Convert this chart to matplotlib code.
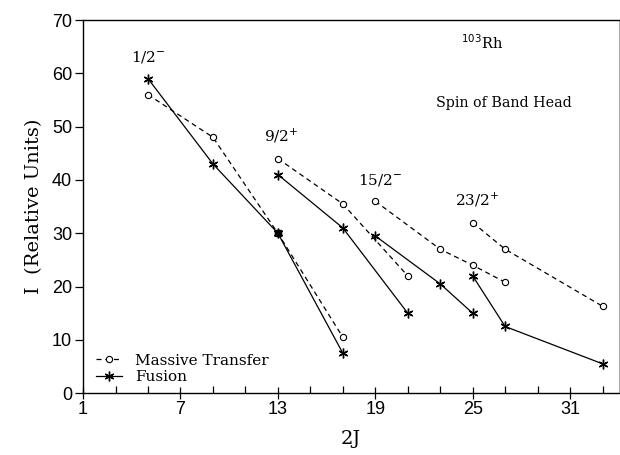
import matplotlib
matplotlib.use("Agg")
import matplotlib.pyplot as plt
from matplotlib.ticker import MultipleLocator

# Bands (spin of band head) : x = 2J, y = relative intensity
band_labels = [r"1/2$^{-}$", r"9/2$^{+}$", r"15/2$^{-}$", r"23/2$^{+}$"]

mt_x = [[5, 9, 13, 17], [13, 17, 21], [19, 23, 25, 27], [25, 27, 33]]
mt_y = [[56, 48, 30, 10.5], [44, 35.5, 22], [36, 27, 24, 20.8], [32, 27, 16.3]]

fu_x = [[5, 9, 13, 17], [13, 17, 21], [19, 23, 25], [25, 27, 33]]
fu_y = [[59, 43, 30, 7.5], [41, 31, 15], [29.5, 20.5, 15], [22, 12.5, 5.5]]

label_pos = [(5, 61.5), (13.2, 46.5), (19.3, 38.5), (25.3, 34.5)]

x_major = [1, 7, 13, 19, 25, 31]
x_minor = [3, 5, 9, 11, 15, 17, 21, 23, 27, 29, 33]

serif = "DejaVu Serif"
sans = "Liberation Sans"

fig = plt.figure(figsize=(6.2, 4.55), dpi=100)
ax = fig.add_axes([0.134, 0.136, 0.864, 0.82])

asterisk = (6, 2, 0)
for i in range(len(mt_x)):
    ax.plot(mt_x[i], mt_y[i], color="black", lw=0.9, ls=(0, (4, 3)),
            marker="o", ms=4.5, mfc="white", mec="black", mew=0.8,
            label="Massive Transfer" if i == 0 else None)
    ax.plot(fu_x[i], fu_y[i], color="black", lw=0.9, ls="-",
            marker=asterisk, ms=7, mec="black", mew=1.0,
            label="Fusion" if i == 0 else None)
    ax.text(label_pos[i][0], label_pos[i][1], band_labels[i], ha="center",
            va="bottom", fontsize=11, family=serif)

# coincident point drawn as filled square
ax.plot([mt_x[0][2]], [mt_y[0][2]], marker="s", ms=5, color="black", ls="none")

ax.text(25.6, 65.7, r"$^{103}$Rh", ha="center", va="center", fontsize=10.5, family=serif)
ax.text(26.9, 54.4, "Spin of Band Head", ha="center", va="center", fontsize=10.3, family=serif)

ax.set_xlim(1, 34)
ax.set_ylim(0, 70)
ax.set_xticks(x_major)
ax.set_xticks(x_minor, minor=True)
ax.yaxis.set_major_locator(MultipleLocator(10))
ax.tick_params(axis="x", which="major", direction="inout", length=8, width=0.9,
               labelsize=13, pad=2)
ax.tick_params(axis="x", which="minor", direction="in", length=5, width=0.9)
ax.tick_params(axis="y", which="major", direction="out", length=6, width=0.9,
               labelsize=13, pad=2)
for lab in ax.get_xticklabels() + ax.get_yticklabels():
    lab.set_family(sans)

for s in ["left", "bottom", "top"]:
    ax.spines[s].set_linewidth(1.0)
ax.spines["right"].set_linewidth(0.6)
ax.spines["right"].set_color("#999999")

ax.set_xlabel("2J", fontsize=14, family=serif, labelpad=8)
ax.set_ylabel("I  (Relative Units)", fontsize=14, family=serif, labelpad=6)

leg = ax.legend(loc="lower left", frameon=False,
                prop={"family": serif, "size": 11}, handlelength=1.7,
                handletextpad=0.9, borderaxespad=0.0, labelspacing=0.15,
                bbox_to_anchor=(0.012, 0.008))

fig.savefig("out.png", dpi=100)
